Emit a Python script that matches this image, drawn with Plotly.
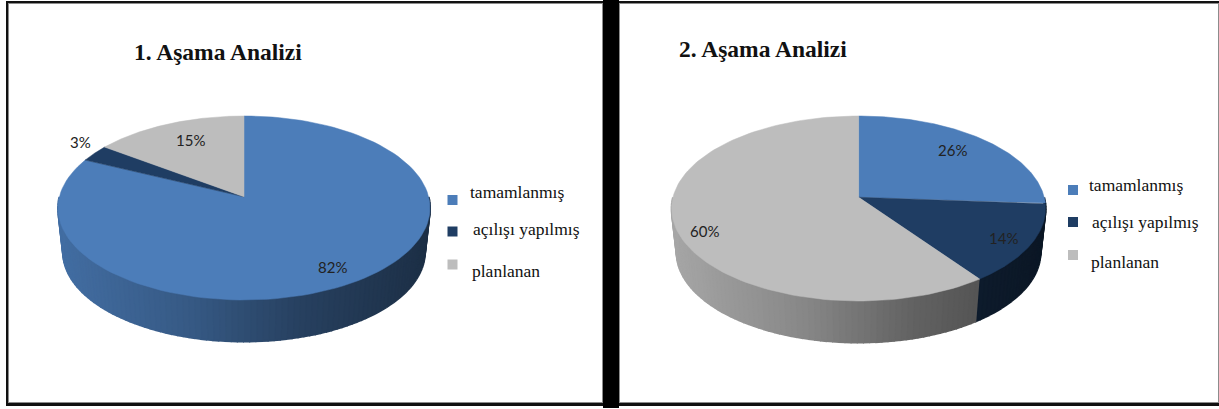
import numpy as np
import plotly.graph_objects as go

categories = ['tamamlanmış', 'açılışı yapılmış', 'planlanan']
titles = ['1. Aşama Analizi', '2. Aşama Analizi']
values_1 = [82, 3, 15]
values_2 = [26, 14, 60]

colors = ['#4c7db9', '#1f3d63', '#bdbdbd']

# layout, in page pixels
W, H = 1219, 409
PIES = [
    dict(cx=244, cy=208, rx=186, ry=92, values=values_1,
         title_x=218, title_y=51.5, sw_x=452.5, sw_y=[200, 231.5, 264.5],
         lab_x=[467.5, 470.5, 469.5], lab_y=[192, 229, 271],
         pct_xy=[(332, 267), (80.5, 142), (190.5, 140)]),
    dict(cx=858.6, cy=208.5, rx=187, ry=92.5, values=values_2,
         title_x=763, title_y=49, sw_x=1073, sw_y=[190, 222, 255],
         lab_x=[1087, 1090, 1089], lab_y=[185, 222, 262],
         pct_xy=[(952.5, 150), (1003.5, 238), (704, 231)]),
]
TILT = 0.885       # foreshortening of the pie angles
BOTTOM_SCALE = 0.973
DEPTH = 44
SHADE_U = [0, 0.35, 0.65, 1]
SHADE_F = [0.88, 0.72, 0.52, 0.38]


def to_ellipse(theta):
    # pie angle (clockwise from the top) to the angle around the tilted ellipse
    theta = np.asarray(theta, dtype=float)
    return 2 * np.arctan(TILT * np.tan(theta / 2))


def shade(color, f):
    r, g, b = [int(color[i:i + 2], 16) for i in (1, 3, 5)]
    return f'rgb({int(r * f)},{int(g * f)},{int(b * f)})'


fig = go.Figure()

for pie in PIES:
    cx, cy, rx, ry = pie['cx'], pie['cy'], pie['rx'], pie['ry']
    total = sum(pie['values'])
    edges = np.cumsum([0] + pie['values']) / total * 2 * np.pi

    # side wall first, one thin band at a time for the gradient
    for i in range(3):
        a = max(edges[i], np.pi / 2 + 0.001)
        b = min(edges[i + 1], 3 * np.pi / 2 - 0.001)
        if a >= b:
            continue
        steps = max(2, int((b - a) / 0.03))
        th = np.linspace(a, b, steps + 1)
        t = np.where(th < np.pi, to_ellipse(th), 2 * np.pi + to_ellipse(th - 2 * np.pi))
        t[th == np.pi] = np.pi
        for j in range(steps):
            tt = np.linspace(t[j], t[j + 1], 3)
            x_top = cx + rx * np.sin(tt)
            y_top = cy - ry * np.cos(tt)
            x_bot = cx + rx * BOTTOM_SCALE * np.sin(tt)
            y_bot = cy + DEPTH - ry * BOTTOM_SCALE * np.cos(tt)
            u = (x_top.mean() - (cx - rx)) / (2 * rx)
            c = shade(colors[i], float(np.interp(u, SHADE_U, SHADE_F)))
            fig.add_trace(go.Scatter(
                x=np.r_[x_top, x_bot[::-1]], y=np.r_[y_top, y_bot[::-1]],
                mode='lines', fill='toself', fillcolor=c,
                line=dict(color=c, width=2), hoverinfo='skip', showlegend=False))

    # top face
    apex_y = cy - ry * np.cos(to_ellipse(np.pi / 2))
    for i in range(3):
        th = np.linspace(edges[i], edges[i + 1], 120)
        wrapped = np.where(th > np.pi, th - 2 * np.pi, th)
        with np.errstate(all='ignore'):
            t = to_ellipse(wrapped)
        fig.add_trace(go.Scatter(
            x=np.r_[cx, cx + rx * np.sin(t), cx],
            y=np.r_[apex_y, cy - ry * np.cos(t), apex_y],
            mode='lines', fill='toself', fillcolor=colors[i],
            line=dict(color=colors[i], width=0.5),
            name=categories[i], hoverinfo='name', showlegend=False))

    # percent labels
    for v, (x, y) in zip(pie['values'], pie['pct_xy']):
        fig.add_annotation(x=x, y=y, text=f'{v}%', showarrow=False,
                           font=dict(family='Lato', size=15, color='#222'))

    # legend
    fig.add_trace(go.Scatter(
        x=[pie['sw_x']] * 3, y=pie['sw_y'], mode='markers',
        marker=dict(symbol='square', size=10, color=colors, line=dict(width=0)),
        hoverinfo='skip', showlegend=False))
    for name, x, y in zip(categories, pie['lab_x'], pie['lab_y']):
        fig.add_annotation(x=x, y=y, text=name, showarrow=False, xanchor='left',
                           font=dict(family='Liberation Serif', size=17.5, color='#111'))

for pie, title in zip(PIES, titles):
    fig.add_annotation(x=pie['title_x'], y=pie['title_y'], text=f'<b>{title}</b>',
                       showarrow=False,
                       font=dict(family='Liberation Serif', size=23.5, color='#111'))


def box(x0, y0, x1, y1, color):
    return dict(type='rect', xref='x', yref='y', layer='below', x0=x0, y0=y0, x1=x1, y1=y1,
                fillcolor=color, line=dict(width=0))


# black backing, then a grey inner edge and white inside for each panel
shapes = [
    box(6, 1, W, 406, '#111111'),
    box(603, 0, 619, 408, 'black'),
    box(8, 3, 603, 403, '#8c8c8c'),
    box(9, 4, 602, 402, 'white'),
    box(619, 3, W, 403, '#8c8c8c'),
    box(620, 4, W - 1, 402, 'white'),
]

fig.update_layout(
    width=W, height=H, margin=dict(l=0, r=0, t=0, b=0),
    paper_bgcolor='white', plot_bgcolor='white', shapes=shapes, showlegend=False,
    xaxis=dict(range=[0, W], visible=False, fixedrange=True),
    yaxis=dict(range=[H, 0], visible=False, fixedrange=True),
)

fig.write_html("out.html", config=dict(displayModeBar=False),
               post_script="document.body.style.margin='0';document.body.style.overflow='hidden';")
